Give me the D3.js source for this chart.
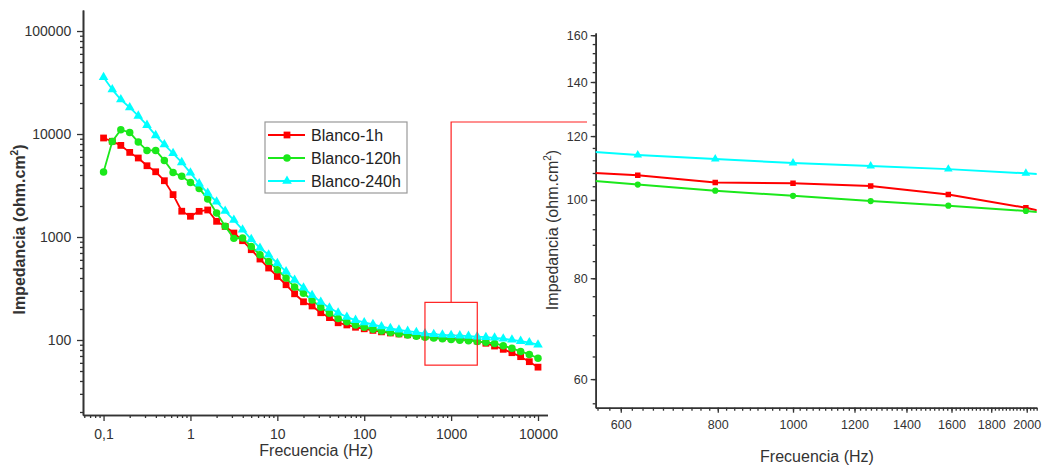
<!DOCTYPE html>
<html>
<head>
<meta charset="utf-8">
<script src="https://cdn.jsdelivr.net/npm/d3@7"></script>
<style>
  body { margin: 0; background: #fff; }
  svg { display: block; }
  text { font-family: "Liberation Sans", Arial, sans-serif; }
</style>
</head>
<body>
<svg id="chart" width="1042" height="466"></svg>
<script>
// Impedance modulus vs. frequency for the blank sample after 1 h, 120 h and 240 h
const freqs = [0.1, 0.126, 0.158, 0.2, 0.251, 0.316, 0.398, 0.501, 0.631, 0.794,
  1, 1.26, 1.58, 2, 2.51, 3.16, 3.98, 5.01, 6.31, 7.94,
  10, 12.6, 15.8, 20, 25.1, 31.6, 39.8, 50.1, 63.1, 79.4,
  100, 126, 158, 200, 251, 316, 398, 501, 631, 794,
  1000, 1259, 1585, 1995, 2512, 3162, 3981, 5012, 6310, 7943, 10000];

const blanco1h = [9150, 8500, 7750, 6630, 5850, 4920, 4300, 3520, 2580, 1780,
  1590, 1775, 1830, 1420, 1267, 1093, 921, 753, 611, 500,
  414, 344, 281, 235, 214, 184, 165, 147, 140, 133,
  128.5, 124, 120, 117, 114.5, 112.3, 110.3, 108.6, 107.3, 105.1,
  104.9, 104.1, 101.6, 97.8, 93, 87.4, 81.2, 75.3, 68.9, 61.6, 54.5];

const blanco120h = [4280, 8480, 11000, 10360, 8360, 6930, 6930, 5540, 4240, 3880,
  3390, 2965, 2340, 1710, 1270, 970, 978, 810, 673, 580,
  482, 400, 327, 284, 244, 208, 182, 162, 150, 140,
  133, 127.5, 122.5, 118.5, 115, 112, 109, 106.5, 104.5, 102.7,
  101.2, 99.7, 98.4, 96.9, 95, 92.5, 88, 83, 77.5, 72.5, 66.5];

const blanco240h = [35500, 27000, 21600, 18100, 15000, 12200, 9700, 7900, 6500, 5300,
  4200, 3300, 2670, 2200, 1785, 1460, 1177, 950, 782, 672,
  556, 462, 383, 322, 272, 234, 205, 184, 167, 156,
  148, 142, 135, 130, 125.5, 122, 119, 115.5, 113.7, 112.4,
  111.1, 110.2, 109.2, 107.9, 106.5, 105, 103, 100.5, 97.5, 94.5, 90];

const seriesNames = ["Blanco-1h", "Blanco-120h", "Blanco-240h"];
const seriesValues = [blanco1h, blanco120h, blanco240h];

// Main panel axes
const mainXTicks = [0.1, 1, 10, 100, 1000, 10000];
const mainXTickLabels = ["0,1", "1", "10", "100", "1000", "10000"];
const mainYTicks = [100, 1000, 10000, 100000];
const mainXDomain = [0.058, 12860];
const mainYDomain = [18.7, 160000];

// Detail panel axes
const zoomXTicks = [600, 800, 1000, 1200, 1400, 1600, 1800, 2000];
const zoomYTicks = [60, 80, 100, 120, 140, 160];
const zoomXDomain = [557, 2060];
const zoomYDomain = [55.3, 161];

// Region of the main panel shown enlarged on the right: [f0, f1, z0, z1]
const detailRegion = [500, 2000, 57, 232];

const colors = ["#ff0000", "#1be81b", "#00ffff"];
const shapes = [d3.symbolSquare, d3.symbolCircle, d3.symbolTriangle];
const axisColor = "#333";
const textColor = "#333";

const svg = d3.select("#chart");

const data = seriesNames.map((name, i) => ({
  name,
  color: colors[i],
  shape: shapes[i],
  points: freqs.map((f, j) => ({ f, v: seriesValues[i][j] }))
}));

function minorLogTicks(domain) {
  const out = [];
  const lo = Math.floor(Math.log10(domain[0])), hi = Math.ceil(Math.log10(domain[1]));
  for (let e = lo; e <= hi; e++) {
    for (let m = 2; m <= 9; m++) {
      const v = m * Math.pow(10, e);
      if (v >= domain[0] && v <= domain[1]) out.push(v);
    }
  }
  return out;
}

function styleAxis(g) {
  g.select(".domain").attr("stroke", axisColor).attr("stroke-width", 1.6);
  g.selectAll(".tick line").attr("stroke", axisColor).attr("stroke-width", 1.3);
  g.selectAll(".tick text").attr("fill", textColor);
}

function drawSeries(g, x, y, clipId, symbolSizes, lineWidth) {
  const line = d3.line().x(d => x(d.f)).y(d => y(d.v));
  const layer = g.append("g").attr("clip-path", clipId ? `url(#${clipId})` : null);
  data.forEach((s, i) => {
    const sg = layer.append("g");
    sg.append("path")
      .datum(s.points)
      .attr("fill", "none")
      .attr("stroke", s.color)
      .attr("stroke-width", lineWidth)
      .attr("stroke-linejoin", "round")
      .attr("d", line);
    sg.selectAll("path.mark")
      .data(s.points)
      .join("path")
      .attr("class", "mark")
      .attr("fill", s.color)
      .attr("transform", d => `translate(${x(d.f)},${y(d.v)})`)
      .attr("d", d3.symbol().type(s.shape).size(symbolSizes[i]));
  });
}

// ---------- Main panel ----------
const mL = 83, mR = 547.5, mT = 10, mB = 415;
const xMain = d3.scaleLog().domain(mainXDomain).range([mL, mR]);
const yMain = d3.scaleLog().domain(mainYDomain).range([mB, mT]);

const main = svg.append("g");

main.append("g")
  .attr("transform", `translate(0,${mB})`)
  .call(d3.axisBottom(xMain).tickValues(minorLogTicks(mainXDomain)).tickSize(3).tickFormat("").tickSizeOuter(0))
  .call(styleAxis);
main.append("g")
  .attr("transform", `translate(0,${mB})`)
  .call(d3.axisBottom(xMain).tickValues(mainXTicks).tickSize(6).tickSizeOuter(0)
    .tickFormat((d, i) => mainXTickLabels[i]))
  .call(styleAxis)
  .call(g => g.selectAll(".tick text").attr("font-size", 14).attr("dy", "1.05em"));

main.append("g")
  .attr("transform", `translate(${mL},0)`)
  .call(d3.axisLeft(yMain).tickValues(minorLogTicks(mainYDomain)).tickSize(3).tickFormat("").tickSizeOuter(0))
  .call(styleAxis);
main.append("g")
  .attr("transform", `translate(${mL},0)`)
  .call(d3.axisLeft(yMain).tickValues(mainYTicks).tickSize(6).tickSizeOuter(0).tickFormat(d3.format("d")))
  .call(styleAxis)
  .call(g => g.selectAll(".tick text").attr("font-size", 14).attr("dx", "-0.2em"));

main.append("text")
  .attr("x", (mL + mR) / 2 + 1)
  .attr("y", 456)
  .attr("text-anchor", "middle")
  .attr("font-size", 16)
  .attr("fill", textColor)
  .text("Frecuencia (Hz)");

const yTitle = main.append("text")
  .attr("transform", `translate(25,${(mT + mB) / 2 + 17}) rotate(-90)`)
  .attr("text-anchor", "middle")
  .attr("font-size", 16)
  .attr("font-weight", "bold")
  .attr("fill", textColor);
yTitle.append("tspan").text("Impedancia (ohm.cm");
yTitle.append("tspan").attr("font-size", 10).attr("dy", -7).text("2");
yTitle.append("tspan").attr("dy", 7).text(")");

drawSeries(main, xMain, yMain, null, [46, 44, 40], 1.8);

// Outline of the enlarged region and connector to the detail panel
const bx0 = xMain(detailRegion[0]), bx1 = xMain(detailRegion[1]);
const by0 = yMain(detailRegion[3]), by1 = yMain(detailRegion[2]);
main.append("rect")
  .attr("x", bx0).attr("y", by0)
  .attr("width", bx1 - bx0).attr("height", by1 - by0)
  .attr("fill", "none").attr("stroke", "#ff2020").attr("stroke-width", 1.2);
main.append("path")
  .attr("d", `M${(bx0 + bx1) / 2},${by0}V122H587`)
  .attr("fill", "none").attr("stroke", "#ff2020").attr("stroke-width", 1.2);

// Legend
const legend = main.append("g").attr("transform", "translate(265,122)");
legend.append("rect")
  .attr("width", 142).attr("height", 71)
  .attr("fill", "#fff").attr("stroke", "#999").attr("stroke-width", 1.2);
data.forEach((s, i) => {
  const ly = 13 + i * 23;
  const row = legend.append("g").attr("transform", `translate(0,${ly})`);
  row.append("line").attr("x1", 3).attr("x2", 40).attr("y1", 0).attr("y2", 0)
    .attr("stroke", s.color).attr("stroke-width", 1.8);
  row.append("path").attr("transform", "translate(22,0)")
    .attr("fill", s.color)
    .attr("d", d3.symbol().type(s.shape).size([46, 44, 40][i]));
  row.append("text").attr("x", 46).attr("y", 0).attr("dy", "0.36em")
    .attr("font-size", 16).attr("fill", "#222").text(s.name);
});

// ---------- Detail panel ----------
const zL = 595.7, zR = 1036.7, zT = 33, zB = 407.7;
const xZoom = d3.scaleLog().domain(zoomXDomain).range([zL, zR]);
const yZoom = d3.scaleLog().domain(zoomYDomain).range([zB, zT]);

const detail = svg.append("g");
detail.append("defs").append("clipPath").attr("id", "detail-clip")
  .append("rect").attr("x", zL).attr("y", zT).attr("width", zR - zL).attr("height", zB - zT);

const zoomXMinor = d3.range(560, 2061, 20).filter(v => v >= zoomXDomain[0] && v <= zoomXDomain[1]);
const zoomYMinor = d3.range(56, 161, 4).filter(v => v >= zoomYDomain[0] && v <= zoomYDomain[1]);

detail.append("g")
  .attr("transform", `translate(0,${zB})`)
  .call(d3.axisBottom(xZoom).tickValues(zoomXMinor).tickSize(3).tickFormat("").tickSizeOuter(0))
  .call(styleAxis);
detail.append("g")
  .attr("transform", `translate(0,${zB})`)
  .call(d3.axisBottom(xZoom).tickValues(zoomXTicks).tickSize(5).tickSizeOuter(0).tickFormat(d3.format("d")))
  .call(styleAxis)
  .call(g => g.selectAll(".tick text").attr("font-size", 12.5).attr("dy", "1.1em"));

detail.append("g")
  .attr("transform", `translate(${zL},0)`)
  .call(d3.axisLeft(yZoom).tickValues(zoomYMinor).tickSize(3).tickFormat("").tickSizeOuter(0))
  .call(styleAxis);
detail.append("g")
  .attr("transform", `translate(${zL},0)`)
  .call(d3.axisLeft(yZoom).tickValues(zoomYTicks).tickSize(5).tickSizeOuter(0).tickFormat(d3.format("d")))
  .call(styleAxis)
  .call(g => g.selectAll(".tick text").attr("font-size", 12.5));

detail.append("text")
  .attr("x", 817)
  .attr("y", 462)
  .attr("text-anchor", "middle")
  .attr("font-size", 16)
  .attr("fill", textColor)
  .text("Frecuencia (Hz)");

const yTitle2 = detail.append("text")
  .attr("transform", `translate(558,${230}) rotate(-90)`)
  .attr("text-anchor", "middle")
  .attr("font-size", 16)
  .attr("fill", textColor);
yTitle2.append("tspan").text("Impedancia (ohm.cm");
yTitle2.append("tspan").attr("font-size", 10).attr("dy", -7).text("2");
yTitle2.append("tspan").attr("dy", 7).text(")");

drawSeries(detail, xZoom, yZoom, "detail-clip", [30, 30, 32], 2);
</script>
</body>
</html>
